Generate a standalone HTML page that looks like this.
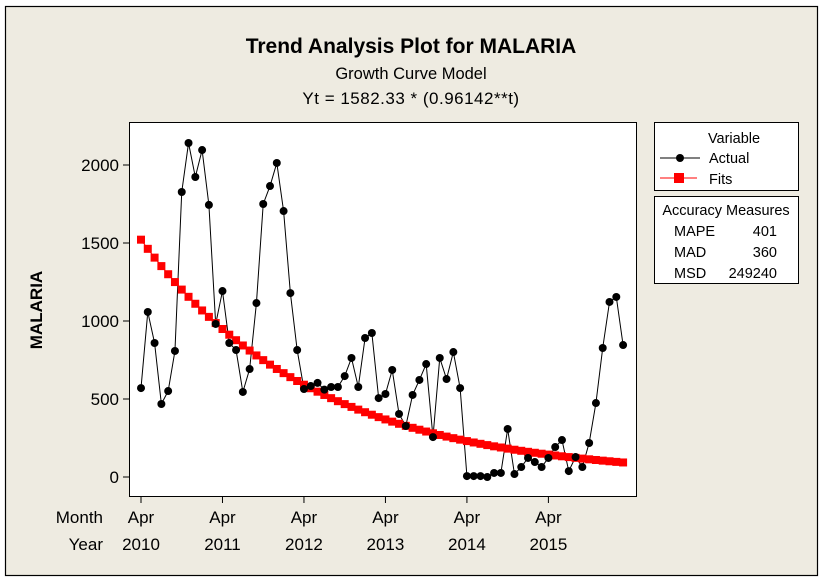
<!DOCTYPE html>
<html><head><meta charset="utf-8"><style>
body{margin:0;background:#fff;}
svg{display:block;font-family:"Liberation Sans",sans-serif;}
</style></head><body>
<svg id="chart" width="823" height="582" viewBox="0 0 823 582" xmlns="http://www.w3.org/2000/svg">
<rect x="0" y="0" width="823" height="582" fill="#ffffff"/>
<rect x="5.5" y="6.5" width="812" height="569" fill="#eeebe1" stroke="#000" stroke-width="1.2"/>
<text x="411" y="53" text-anchor="middle" font-size="21" font-weight="bold">Trend Analysis Plot for MALARIA</text>
<text x="411" y="79" text-anchor="middle" font-size="16.5">Growth Curve Model</text>
<text x="411" y="104" text-anchor="middle" font-size="17" letter-spacing="0.5">Yt = 1582.33 * (0.96142**t)</text>
<rect x="129.5" y="122.5" width="507" height="374" fill="#fff" stroke="#000"/>
<text transform="translate(42,310) rotate(-90)" text-anchor="middle" font-size="17" font-weight="bold">MALARIA</text>
<text x="103" y="523" text-anchor="end" font-size="17">Month</text>
<text x="103" y="550" text-anchor="end" font-size="17">Year</text>
<g id="axes"></g>
<g id="series"></g>
<rect x="654.5" y="122.5" width="144" height="68" fill="#fff" stroke="#000"/>
<text x="734" y="143" text-anchor="middle" font-size="14.5">Variable</text>
<g>
<line x1="660" y1="158" x2="700" y2="158" stroke="#000"/><circle cx="680" cy="158" r="4" fill="#000"/>
<text x="709" y="163" font-size="14.5">Actual</text></g>
<g>
<line x1="660" y1="178" x2="697" y2="178" stroke="red"/><rect x="674" y="173" width="10" height="10" fill="red"/>
<text x="709" y="184" font-size="14.5">Fits</text></g>
<rect x="654.5" y="196.5" width="144" height="87" fill="#fff" stroke="#000"/>
<text x="726" y="215" text-anchor="middle" font-size="14.5">Accuracy Measures</text>
<g font-size="14.5">
<text x="674" y="236">MAPE</text><text x="777" y="236" text-anchor="end">401</text>
<text x="674" y="257">MAD</text><text x="777" y="257" text-anchor="end">360</text>
<text x="674" y="278">MSD</text><text x="777" y="278" text-anchor="end">249240</text>
</g>
</svg>
<script>
const actual=[570,1058,859,468,551,808,1827,2141,1923,2096,1744,981,1192,859,814,545,692,1115,1750,1865,2013,1705,1179,814,
564,583,603,560,577,577,647,763,577,891,923,506,532,686,404,327,526,622,724,256,763,628,801,570,6,6,
6,0,26,26,308,19,64,122,96,64,122,192,237,38,128,64,218,474,827,1122,1154,846];
const fits=[1521.3,1462.6,1406.2,1351.9,1299.8,1249.6,1201.4,1155.0,1110.5,1067.6,1026.4,986.8,948.7,912.1,876.9,843.1,810.6,779.3,749.2,720.3,692.5,665.8,640.1,615.4,591.7,568.9,546.9,525.8,505.5,486.0,467.3,449.3,431.9,415.3,399.2,383.8,369.0,354.8,341.1,327.9,315.3,303.1,291.4,280.2,269.4,259.0,249.0,239.4,230.2,221.3,212.7,204.5,196.6,189.1,181.8,174.8,168.0,161.5,155.3,149.3,143.6,138.0,132.7,127.6,122.7,117.9,113.4,109.0,104.8,100.8,96.9,93.2];
const yTicks=[0,500,1000,1500,2000];
const xTickIndex=[1,13,25,37,49,61];
const xTickMonths=["Apr","Apr","Apr","Apr","Apr","Apr"];
const xTickYears=["2010","2011","2012","2013","2014","2015"];
const NS="http://www.w3.org/2000/svg";
const xs=t=>141+(t-1)*6.79;
const ys=v=>477-v*0.156;
function mk(tag,attrs,parent){const e=document.createElementNS(NS,tag);for(const k in attrs)e.setAttribute(k,attrs[k]);parent.appendChild(e);return e;}
const ax=document.getElementById('axes'),sr=document.getElementById('series');
yTicks.forEach(v=>{
 const l=mk('line',{x1:123,x2:129,y1:ys(v),y2:ys(v),stroke:'#000'},ax);
 
 
 const t=mk('text',{x:119,y:ys(v)+6,'text-anchor':'end','font-size':17},ax);t.textContent=v;
 
 
});
xTickIndex.forEach((ti,i)=>{
 const l=mk('line',{x1:xs(ti),x2:xs(ti),y1:497,y2:503,stroke:'#000'},ax);
 
 
 const a=mk('text',{x:xs(ti),y:523,'text-anchor':'middle','font-size':17},ax);a.textContent=xTickMonths[i];
 
 
 const b=mk('text',{x:xs(ti),y:550,'text-anchor':'middle','font-size':17},ax);b.textContent=xTickYears[i];
 
 
});
const fl=mk('polyline',{points:fits.map((v,i)=>xs(i+1)+','+ys(v)).join(' '),fill:'none',stroke:'red'},sr);


const al=mk('polyline',{points:actual.map((v,i)=>xs(i+1)+','+ys(v)).join(' '),fill:'none',stroke:'#000'},sr);


fits.forEach((v,i)=>{
 const r=mk('rect',{x:xs(i+1)-4,y:ys(v)-4,width:8,height:8,fill:'red'},sr);
 
 
});
actual.forEach((v,i)=>{
 const c=mk('circle',{cx:xs(i+1),cy:ys(v),r:4,fill:'#000'},sr);
 
 
});
</script>
</body></html>
